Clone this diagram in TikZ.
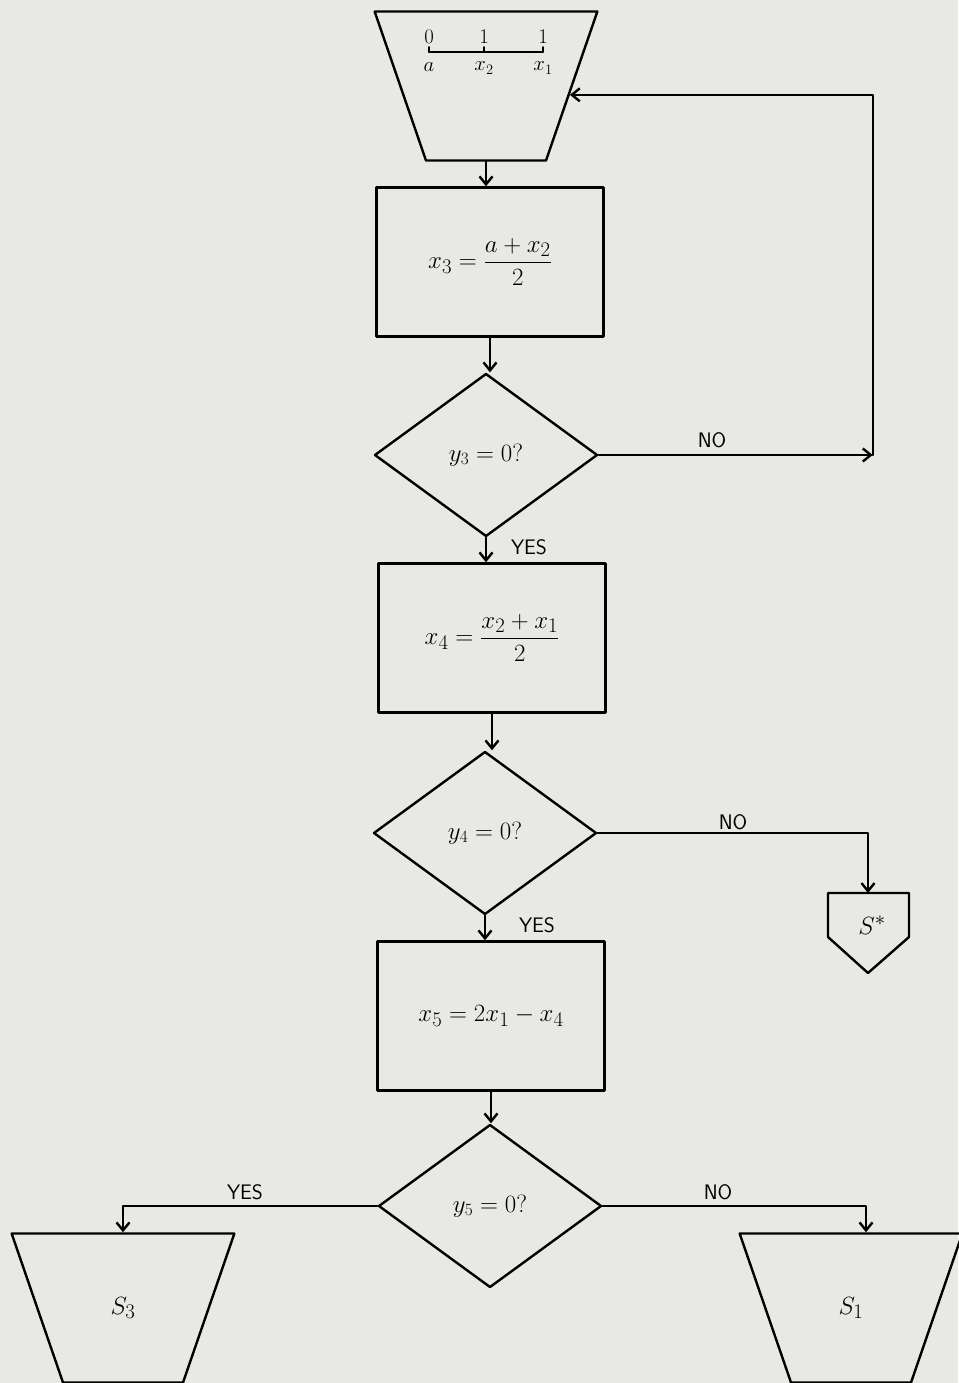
\documentclass[tikz,border=0pt]{standalone}
\usepackage{amsmath}
\usepackage{tikz}
\usetikzlibrary{calc}
\usetikzlibrary{arrows.meta, shapes.geometric}

\definecolor{paper}{RGB}{232,232,228}

\begin{document}
\begin{tikzpicture}[
  x=1pt,y=-1pt,
  line cap=round,
  line join=round,
  >={Straight Barb[length=8pt,width=13pt]},
  flow/.style={draw=black,line width=2.4pt},
  box/.style={draw=black,line width=2.4pt,rectangle,inner sep=0pt,
    minimum width=227pt,minimum height=149pt,font=\fontsize{28}{32}\selectfont},
  test/.style={draw=black,line width=2.4pt,diamond,inner sep=0pt,
    minimum width=223pt,minimum height=163pt,font=\fontsize{26}{30}\selectfont},
  term/.style={draw=black,line width=2.4pt,trapezium,trapezium stretches=true,
    shape border rotate=180,trapezium left angle=64.5,trapezium right angle=64.5,
    minimum width=224pt,minimum height=149pt,inner sep=3pt,
    font=\fontsize{28}{32}\selectfont},
  tag/.style={font=\fontsize{21}{25}\selectfont\sffamily},
  small/.style={font=\fontsize{20}{22}\selectfont,inner sep=1pt}
]
\useasboundingbox[fill=paper] (0,0) rectangle (958,1383);

% Entry: interval a, x2, x1
\node[term] (entry) at (486,86) {\phantom{$S_3$}};
\coordinate (na)  at (429,52);
\coordinate (nx2) at (484,52);
\coordinate (nx1) at (543,52);
\draw[flow,line width=1.8pt] (na) -- (nx1);
\foreach \p in {na,nx2,nx1}
  \draw[flow,line width=1.8pt] (\p) -- ++(0,-5);
\node[small] (va)  at ($(na)+(0,-15)$)  {$0$};
\node[small] (vx2) at ($(nx2)+(0,-15)$) {$1$};
\node[small] (vx1) at ($(nx1)+(0,-15)$) {$1$};
\node[small] (la)  at ($(na)+(0,15)$)   {$a$};
\node[small] (lx2) at ($(nx2)+(0,16)$)  {$x_2$};
\node[small] (lx1) at ($(nx1)+(0,16)$)  {$x_1$};

% Main column
\node[box]  (calcthree) at (490,262)  {$x_3 = \dfrac{a+x_2}{2}$};
\node[test] (testthree) at (486,455)  {$y_3=0?$};
\node[box]  (calcfour)  at (492,638)  {$x_4 = \dfrac{x_2+x_1}{2}$};
\node[test] (testfour)  at (485,833)  {$y_4=0?$};
\node[box]  (calcfive)  at (491,1016) {$x_5 = 2x_1 - x_4$};
\node[test] (testfive)  at (490,1206) {$y_5=0?$};

% Exits
\node[term] (sthree) at (123,1308) {$S_3$};
\node[term] (sone)   at (851,1308) {$S_1$};
\draw[flow] (828,893) -- (909,893) -- (909,937) -- (868,973) -- (828,937) -- cycle;
\coordinate (sstartop) at (868,893);
\node[font=\fontsize{28}{32}\selectfont] (sstar) at (872,925) {$S^{*}$};
\coordinate (sonein) at ($(sone.north)+(15,0)$);

% Flow down the column
\draw[flow,->] (entry.south) -- (entry.south |- calcthree.north);
\draw[flow,->] (calcthree.south) -- (calcthree.south |- testthree.north);
\draw[flow,->] (testthree.south) -- (testthree.south |- calcfour.north);
\draw[flow,->] (calcfour.south) -- (calcfour.south |- testfour.north);
\draw[flow,->] (testfour.south) -- (testfour.south |- calcfive.north);
\draw[flow,->] (calcfive.south) -- (calcfive.south |- testfive.north);

% Branches
\path (testthree.east) ++(274,0) coordinate (back);
\draw[flow,->] (testthree.east) -- (back);
\draw[flow,->] (back) |- (entry.-6);
\draw[flow,->] (testfour.east) -| (sstartop);
\draw[flow,->] (testfive.west) -| (sthree.north);
\draw[flow,->] (testfive.east) -| (sonein);

% Labels
\node[tag] (nothree)  at (712,440)  {NO};
\node[tag] (yesthree) at (529,547)  {YES};
\node[tag] (nofour)   at (733,822)  {NO};
\node[tag] (yesfour)  at (537,925)  {YES};
\node[tag] (yesfive)  at (245,1192) {YES};
\node[tag] (nofive)   at (718,1192) {NO};

\end{tikzpicture}
\end{document}
